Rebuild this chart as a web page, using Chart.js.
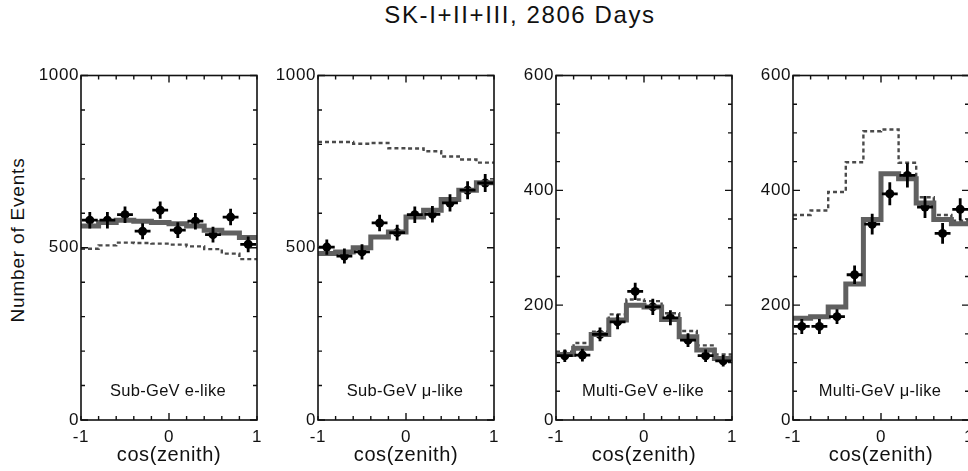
<!DOCTYPE html>
<html>
<head>
<meta charset="utf-8">
<script src="https://cdn.jsdelivr.net/npm/chart.js@4.4.1/dist/chart.umd.min.js"></script>
<style>
  html, body { margin: 0; padding: 0; background: #fff; width: 968px; height: 471px; overflow: hidden; position: relative;
    font-family: "Liberation Sans", Arial, sans-serif; color: #111; }
  .panel { position: absolute; top: 55px; }
  #title { position: absolute; left: 0; width: 1040px; top: 3px; text-align: center; font-size: 24px; line-height: 24px; letter-spacing: 1.6px; }
  #ylab { position: absolute; left: 18px; top: 240px; transform: translate(-50%, -50%) rotate(-90deg); white-space: nowrap;
    font-size: 19px; letter-spacing: 0.8px; }
</style>
</head>
<body>
<div id="title">SK-I+II+III, 2806 Days</div>
<div id="ylab">Number of Events</div>
<canvas id="c0" class="panel" width="238" height="420" style="left:31px"></canvas>
<canvas id="c1" class="panel" width="238" height="420" style="left:268px"></canvas>
<canvas id="c2" class="panel" width="238" height="420" style="left:506px"></canvas>
<canvas id="c3" class="panel" width="238" height="420" style="left:743px"></canvas>
<script>
// cos(zenith) bin centres, 10 bins of width 0.2
const cosBins = [-0.9, -0.7, -0.5, -0.3, -0.1, 0.1, 0.3, 0.5, 0.7, 0.9];

// Sub-GeV e-like
const subEObs  = [580, 580, 596, 548, 609, 551, 577, 538, 589, 510];
const subEErr  = [24, 24, 24, 23, 25, 23, 24, 23, 24, 23];
const subEOsc  = [563, 573, 580, 577, 573, 570, 563, 551, 543, 530];
const subENull = [497, 507, 515, 514, 512, 509, 504, 496, 483, 467];

// Sub-GeV mu-like
const subMuObs  = [502, 476, 488, 572, 544, 596, 597, 630, 667, 688];
const subMuErr  = [22, 22, 22, 24, 23, 24, 24, 25, 26, 26];
const subMuOsc  = [483, 488, 500, 531, 546, 589, 609, 640, 667, 689];
const subMuNull = [807, 807, 802, 804, 789, 788, 780, 765, 756, 747];

// Multi-GeV e-like
const mulEObs  = [112, 113, 149, 171, 224, 197, 178, 139, 112, 103];
const mulEErr  = [11, 11, 12, 13, 15, 14, 13, 12, 11, 10];
const mulEOsc  = [114, 125, 149, 174, 200, 197, 175, 145, 122, 107];
const mulENull = [119, 134, 154, 184, 210, 207, 186, 155, 130, 114];

// Multi-GeV mu-like
const mulMuObs  = [163, 163, 180, 253, 341, 394, 426, 371, 325, 367];
const mulMuErr  = [13, 13, 13, 16, 18, 20, 21, 19, 18, 19];
const mulMuOsc  = [177, 180, 197, 237, 349, 429, 420, 378, 349, 342];
const mulMuNull = [357, 365, 397, 449, 503, 506, 448, 388, 357, 347];

const panelLabels = ['Sub-GeV e-like', 'Sub-GeV \u03bc-like', 'Multi-GeV e-like', 'Multi-GeV \u03bc-like'];
const yMax = [1000, 1000, 600, 600];
const yLabelStep = [500, 500, 200, 200];
const yMinorStep = [100, 100, 50, 50];

const panels = [
  {obs: subEObs, err: subEErr, osc: subEOsc, nul: subENull},
  {obs: subMuObs, err: subMuErr, osc: subMuOsc, nul: subMuNull},
  {obs: mulEObs, err: mulEErr, osc: mulEOsc, nul: mulENull},
  {obs: mulMuObs, err: mulMuErr, osc: mulMuOsc, nul: mulMuNull}
];

const halfBin = 0.1;
const xErrHalf = 0.09;

Chart.defaults.font.family = '"Liberation Sans", Arial, sans-serif';
Chart.defaults.color = '#111';

// histogram outline: left edge of every bin, then the right edge of the last one
function steps(vals) {
  let pts = vals.map((v, i) => ({x: cosBins[i] - halfBin, y: v}));
  pts.push({x: cosBins[cosBins.length - 1] + halfBin, y: vals[vals.length - 1]});
  return pts;
}

const spacing = {
  id: 'spacing',
  beforeDraw(chart) { chart.ctx.letterSpacing = '0.6px'; }
};

const boxTicks = {
  id: 'boxTicks',
  afterDatasetsDraw(chart, args, opts) {
    const {ctx, chartArea: a, scales: {x, y}} = chart;
    ctx.save();
    ctx.strokeStyle = '#111';
    ctx.lineWidth = 1.4;
    ctx.beginPath();
    for (let i = 0; i <= 10; i++) {
      const px = x.getPixelForValue(-1 + i * 0.2);
      const len = i === 5 ? 7 : 4;
      ctx.moveTo(px, a.bottom); ctx.lineTo(px, a.bottom - len);
      ctx.moveTo(px, a.top); ctx.lineTo(px, a.top + len);
    }
    const n = Math.round(opts.max / opts.minor);
    for (let i = 0; i <= n; i++) {
      const v = i * opts.minor;
      const py = y.getPixelForValue(v);
      const len = v % opts.major === 0 ? 7 : 4;
      ctx.moveTo(a.left, py); ctx.lineTo(a.left + len, py);
      ctx.moveTo(a.right, py); ctx.lineTo(a.right - len, py);
    }
    ctx.stroke();
    ctx.lineWidth = 1.6;
    ctx.strokeRect(a.left, a.top, a.width, a.height);
    ctx.restore();
  }
};

const errBars = {
  id: 'errBars',
  afterDatasetsDraw(chart, args, opts) {
    const {ctx, scales: {x, y}} = chart;
    ctx.save();
    ctx.strokeStyle = '#000';
    ctx.lineWidth = 2.8;
    ctx.beginPath();
    opts.obs.forEach((v, i) => {
      const c = cosBins[i];
      const px = x.getPixelForValue(c), py = y.getPixelForValue(v);
      ctx.moveTo(x.getPixelForValue(c - xErrHalf), py);
      ctx.lineTo(x.getPixelForValue(c + xErrHalf), py);
      ctx.moveTo(px, y.getPixelForValue(v - opts.err[i]));
      ctx.lineTo(px, y.getPixelForValue(v + opts.err[i]));
    });
    ctx.stroke();
    ctx.restore();
  }
};

const panelLabel = {
  id: 'panelLabel',
  afterDraw(chart, args, opts) {
    const {ctx, chartArea: a} = chart;
    ctx.save();
    ctx.letterSpacing = '0.3px';
    ctx.font = '16.5px "Liberation Sans", Arial, sans-serif';
    ctx.fillStyle = '#111';
    ctx.textAlign = 'center';
    ctx.textBaseline = 'middle';
    ctx.fillText(opts.text, (a.left + a.right) / 2 - 1, a.bottom - 29);
    ctx.restore();
  }
};

panels.forEach((p, k) => {
  let ctx = document.getElementById('c' + k).getContext('2d');
  new Chart(ctx, {
    type: 'line',
    data: {
      datasets: [
        {
          data: steps(p.osc),
          stepped: 'before',
          borderColor: '#606060',
          borderWidth: 5,
          pointRadius: 0,
          fill: false
        },
        {
          data: steps(p.nul),
          stepped: 'before',
          borderColor: '#4a4a4a',
          borderWidth: 2.4,
          borderDash: [4, 3],
          pointRadius: 0,
          fill: false
        },
        {
          data: p.obs.map((v, i) => ({x: cosBins[i], y: v})),
          showLine: false,
          pointRadius: 4.5,
          pointBackgroundColor: '#000',
          pointBorderColor: '#000',
          pointBorderWidth: 0
        }
      ]
    },
    options: {
      responsive: false,
      animation: false,
      devicePixelRatio: 1,
      layout: {padding: {top: 20.5, right: 12, left: 0, bottom: 0}},
      plugins: {
        legend: {display: false},
        tooltip: {enabled: false},
        boxTicks: {max: yMax[k], major: yLabelStep[k], minor: yMinorStep[k]},
        errBars: {obs: p.obs, err: p.err},
        panelLabel: {text: panelLabels[k]}
      },
      scales: {
        x: {
          type: 'linear',
          min: -1,
          max: 1,
          grid: {display: false, drawTicks: false},
          border: {display: false},
          ticks: {stepSize: 1, padding: 7, font: {size: 17}, maxRotation: 0, callback: (v) => String(v)},
          title: {display: true, text: 'cos(zenith)', font: {size: 20}, padding: {top: 0, bottom: 8}},
          afterFit: (s) => { s.height = 55; s.paddingLeft = 0; s.paddingRight = 0; }
        },
        y: {
          min: 0,
          max: yMax[k],
          grid: {display: false, drawTicks: false},
          border: {display: false},
          ticks: {stepSize: yLabelStep[k], padding: 2, font: {size: 17}, callback: (v) => String(v)},
          afterFit: (s) => { s.width = 50; s.paddingTop = 0; s.paddingBottom = 0; }
        }
      }
    },
    plugins: [spacing, boxTicks, errBars, panelLabel]
  });
});
</script>
</body>
</html>
